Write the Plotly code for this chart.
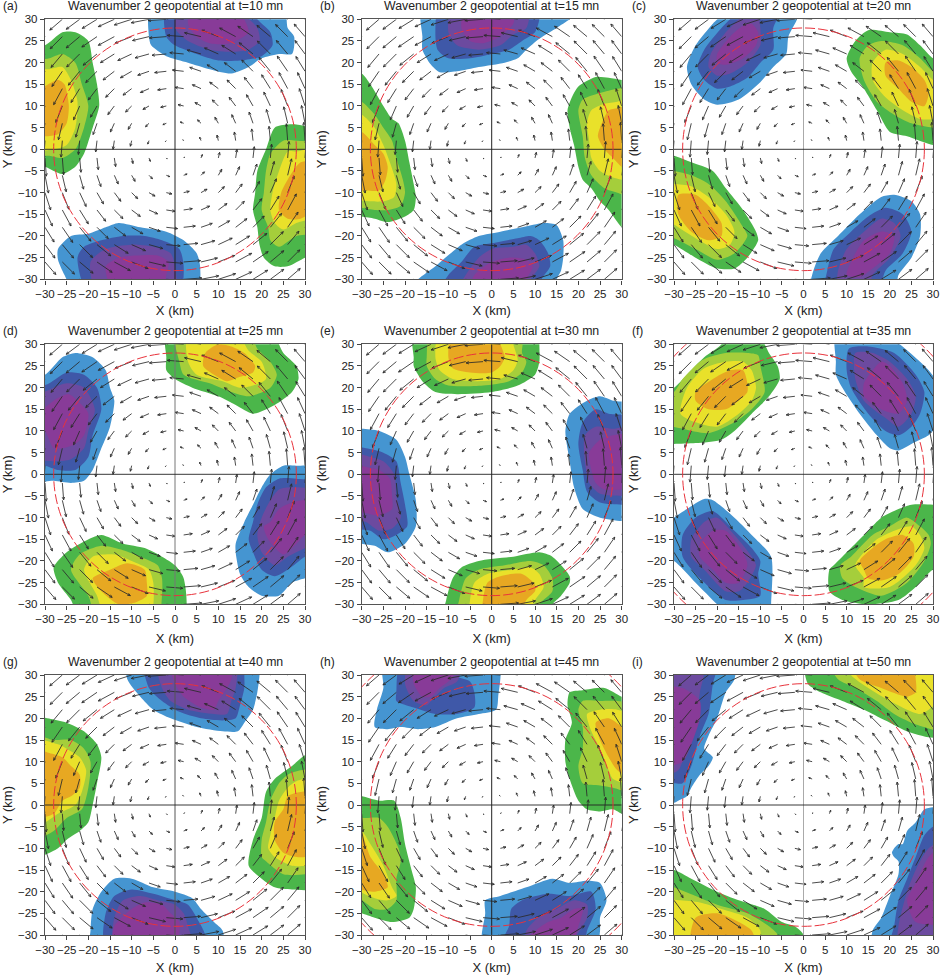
import math
import plotly.graph_objects as go

TAGS = ["(a)", "(b)", "(c)", "(d)", "(e)", "(f)", "(g)", "(h)", "(i)"]
MINUTES = [10, 15, 20, 25, 30, 35, 40, 45, 50]
TICKS = [-30, -25, -20, -15, -10, -5, 0, 5, 10, 15, 20, 25, 30]
COOL = ["#4595d1", "#3f58a8", "#6c4a9f", "#883b98"]
WARM = ["#4bb64a", "#a5ce3b", "#e9e12a", "#e7a822"]
CIRCLE_R = [[28], [28], [28], [28], [28], [28, 40.5], [28], [28, 40.5], [28]]
VLINE = ["#222", "#222", "#aaa", "#777", "#222", "#aaa", "#555", "#222", "#aaa"]

QUAD_X = [2, 6, 10, 14, 18, 22, 26, 30]
QUAD_Y = [30, 26, 22, 18, 14, 10, 6, 2]
QUAD_U = [
    [-4.2, -4.1, -4.0, -3.7, -3.4, -3.1, -2.9, -2.5],
    [-3.8, -3.8, -3.8, -3.7, -3.5, -3.1, -2.8, -2.5],
    [-3.2, -3.2, -3.2, -3.2, -3.2, -3.0, -2.6, -2.3],
    [-2.6, -2.6, -2.6, -2.6, -2.6, -2.6, -2.4, -2.1],
    [-2.0, -2.0, -2.0, -2.0, -2.0, -2.0, -2.0, -1.7],
    [-1.3, -1.4, -1.4, -1.5, -1.5, -1.5, -1.5, -1.3],
    [-0.8, -0.8, -0.8, -0.9, -0.9, -0.9, -0.9, -0.8],
    [-0.2, -0.3, -0.3, -0.3, -0.3, -0.3, -0.3, -0.3],
]
QUAD_V = [
    [0.3, 0.8, 1.3, 1.7, 2.1, 2.3, 2.5, 2.5],
    [0.3, 0.9, 1.5, 2.0, 2.4, 2.6, 2.8, 2.9],
    [0.3, 0.9, 1.4, 2.0, 2.6, 3.0, 3.1, 3.1],
    [0.3, 0.9, 1.5, 2.0, 2.6, 3.2, 3.5, 3.4],
    [0.3, 0.9, 1.5, 2.0, 2.6, 3.2, 3.7, 3.7],
    [0.3, 0.8, 1.4, 2.0, 2.6, 3.2, 3.8, 4.0],
    [0.3, 0.8, 1.4, 2.0, 2.6, 3.2, 3.8, 4.1],
    [0.2, 0.8, 1.3, 2.0, 2.7, 3.3, 3.9, 4.2],
]

# each blob: colour ramp, then its nested contour outlines (outer to inner)
PANEL_A = [
 (COOL, [[(-5.5,33),(-6,26),(-5.5,24),(-2,21.5),(3,20),(8,18.5),(13,17.5),(17,19),(20,21),(24,22),(27,22),(27.5,26),(26,28),(25,33)],
         [(-2,33),(-2,26),(0,24),(5,22),(10,20.5),(15,20.5),(20,21.5),(22.5,24),(22,27),(19,30),(17,33)],
         [(1,33),(0,28),(3,25),(8,23),(13,22.5),(17,23),(19.5,25),(19,28),(16,31),(14,33)],
         [(4,33),(3,29),(5,26),(8,24.5),(12,24.3),(15,25.5),(17,27),(16,30),(14,33)]]),
 (COOL, [[(-23,-33),(-25.5,-29),(-27,-25.5),(-27,-23),(-24,-20),(-20,-19.5),(-16,-18),(-13,-17),(-8,-18),(-2,-19),(2,-21),(5,-24),(5.8,-27),(5,-33)],
         [(-20,-33),(-22.5,-25),(-21,-22.5),(-17,-21),(-12,-20),(-7,-20),(-3,-21),(1,-23),(2,-27),(1,-33)],
         [(-18,-33),(-19.5,-26),(-16,-23),(-10,-22),(-5,-22.5),(-1,-24),(0,-27),(0,-33)],
         [(-14,-33),(-16,-27),(-13,-25),(-9,-24.5),(-4,-24.5),(-1.5,-26),(-2,-29),(-3,-33)]]),
 (WARM, [[(-33,24),(-30,24),(-26,27),(-23,27),(-20,25),(-19,20),(-18,15),(-17.5,10),(-19,5),(-21,-1),(-23,-4),(-26,-5.7),(-28,-5),(-30,-4),(-33,-4)],
         [(-33,20),(-29,21),(-26,22),(-23,20),(-21.5,15),(-20,10),(-21,5),(-23,0),(-26,-2),(-29,-1.5),(-33,-1)],
         [(-33,18),(-29,18.5),(-26,19),(-24,16),(-22.5,11),(-23,5),(-25,1),(-28,0),(-33,0)],
         [(-33,12),(-27,16),(-25.5,15),(-24.5,10),(-25,6),(-27,3.5),(-30,3),(-33,3)]]),
 (WARM, [[(33,4),(28,5.7),(26,5.7),(23,5),(21,0),(19,-5),(18.5,-10),(18,-14),(19,-18),(19.5,-22),(20.5,-25),(23,-27),(26,-27),(30,-25),(33,-24)],
         [(33,1),(28,2),(25,2),(22,-1),(21,-5),(20.5,-10),(20,-14),(21.5,-18),(22,-21),(24,-22.5),(28,-20),(33,-19)],
         [(33,0),(28,-.5),(26,-.5),(24,-5),(22.5,-10),(22,-14),(23,-17),(25,-18.5),(28,-17),(33,-15)],
         [(33,-3),(29,-3),(26,-7),(24.5,-10),(24,-14),(26,-16),(29,-16),(33,-13)]]),
]
PANEL_B = [
 (COOL, [[(-16,33),(-16,26),(-16,23),(-14,19.5),(-12,17.8),(-8,18),(-3,19),(3,20),(6,21),(8,23),(11,25.5),(15,28),(18,30),(22,33)],
         [(-12,33),(-13,27),(-12.5,23),(-10,21),(-5,21),(0,22),(4,23),(7,25),(10,27),(11,30),(11,33)],
         [(-9,33),(-10,27),(-8,24),(-3,23),(2,24),(5,26.5),(8,28),(8.5,33)],
         [(-6,33),(-7,28),(-5,25),(-2,24.5),(1,25.5),(3,27),(5,29),(5,33)]]),
 (COOL, [[(-20,-33),(-17,-30),(-13,-27),(-7,-22),(-3,-20),(2,-19),(7,-18),(12,-17),(15,-17.5),(16.5,-21),(16.5,-25),(16,-28),(15,-30),(15,-33)],
         [(-12,-33),(-10,-29),(-7,-26),(-4,-22.5),(1,-21.5),(6,-20.5),(9,-20),(11,-21),(13,-24),(13.5,-27),(11.5,-30),(11,-33)],
         [(-8,-33),(-6,-29),(-3,-25),(0,-23),(5,-22.5),(8,-22),(10,-24),(11,-27),(9,-30),(8,-33)],
         [(-5,-33),(-4,-29),(0,-26),(4,-25),(8,-25.5),(9.5,-27),(8,-30),(7,-33)]]),
 (WARM, [[(-33,18),(-30,17.5),(-28,15),(-25,10),(-23,7),(-21.5,6),(-20,2),(-19,-3),(-18,-8),(-17.5,-11),(-18,-14),(-20,-15.5),(-24,-16.8),(-27,-16),(-30,-15.5),(-33,-15)],
         [(-33,11.5),(-30,11),(-27,8),(-25,5),(-23,2),(-22,-2),(-20.5,-7),(-20,-10),(-21,-13),(-24,-14),(-27,-14),(-30,-13.5),(-33,-13)],
         [(-33,8),(-30,8),(-27,5),(-25,1),(-23.5,-3),(-22,-8),(-22.5,-11),(-25,-12),(-28,-12),(-33,-11)],
         [(-33,4),(-30,4),(-27,1),(-25,-1),(-24,-4),(-24.5,-7),(-26,-9.5),(-29,-9.5),(-33,-9)]]),
 (WARM, [[(33,16),(30,16),(27,16.5),(24,16.7),(20,14.5),(18.5,12),(17.5,9),(18,5),(19,1),(20,-4),(21,-7),(23,-9),(25,-12),(27,-14),(30,-18),(33,-20)],
         [(33,14),(29,14),(25,13),(21,11.5),(20,9),(21,3),(21.5,-2),(23,-6),(26,-9),(29,-10),(33,-11)],
         [(33,12),(29,11),(26,10.5),(23,9),(22,6),(22.5,2),(23,-2),(25,-5),(28,-6.5),(33,-7)],
         [(33,10),(29,9.5),(27,9),(25,5),(24.5,3),(26,0),(28,-2),(30,-4),(33,-5)]]),
]
PANEL_C = [
 (COOL, [[(-1,33),(-1.5,30),(-3.5,26),(-4,22),(-7,19),(-10,15.5),(-15,11.5),(-20,10.3),(-23,11.5),(-26,15),(-27,19),(-25,24),(-21,29),(-19,31),(-18,33)],
         [(-5,33),(-7,28),(-7,23),(-10,20),(-13,16.5),(-17,14.5),(-20,14),(-23,16),(-24.5,19),(-23,23),(-19,28),(-16,31),(-14,33)],
         [(-11,33),(-10,28),(-10,24),(-13,20),(-17,17.5),(-20,17),(-22,19),(-21.5,22),(-18,27),(-15,30),(-13,33)],
         [(-12,29),(-10.5,27),(-11,24),(-14,21),(-18,19.5),(-20,20),(-20,22),(-17,26),(-14,28.5)]]),
 (COOL, [[(1.5,-33),(2,-29),(4,-24),(8,-20),(13,-15),(18,-11),(21,-10.5),(25,-12),(27,-15),(27,-20),(25,-25),(22,-29),(21,-33)],
         [(5,-33),(5.5,-28),(7,-23),(11,-19),(15,-15.5),(19,-13.5),(23,-15),(25,-19),(23,-24),(19,-28),(17,-33)],
         [(8,-33),(8,-28),(10,-23),(14,-19),(18,-16),(21,-17),(22.5,-20),(20,-25),(16,-29),(15,-33)],
         [(10,-29),(11,-26),(14,-21),(18,-19),(21,-20),(20,-24),(16,-27.5),(13,-29.5)]]),
 (WARM, [[(33,20),(30,21),(27,24),(24,26.5),(20,27),(15,27.5),(12,25),(10,21),(11,18),(14,14),(17,9),(20,4),(24,3),(30,1),(33,1)],
         [(33,17),(30,18),(27,21),(23,24),(18,25),(15,24),(13,21),(14,16),(17,11),(21,8),(25,6),(30,5),(33,5)],
         [(33,14),(30,16),(27,19),(23,22),(19,23),(16,20),(16,16),(19,12),(23,9),(27,7),(30,7),(33,9)],
         [(29,13),(28,16),(25,19),(22,20.5),(19,20),(19,17),(22,14),(25,11),(28,10)]]),
 (WARM, [[(-33,-1),(-30,-1.5),(-26,-3),(-21,-5),(-18,-9),(-14,-14),(-11,-19),(-10.5,-21),(-13,-25),(-16,-27.5),(-20,-27.5),(-25,-25),(-30,-22),(-33,-21)],
         [(-33,-5),(-30,-5),(-26,-6),(-22,-8),(-18,-12),(-14,-18),(-13,-20),(-16,-24),(-20,-25.5),(-25,-23),(-30,-20.5),(-33,-20)],
         [(-33,-8),(-30,-8),(-26,-8.5),(-22,-11),(-18,-15),(-16,-19),(-17,-22),(-20,-23),(-25,-20.5),(-29,-18),(-33,-15)],
         [(-29,-10.5),(-25,-10.5),(-22,-13),(-19,-17),(-19,-20),(-22,-21),(-26,-19),(-29,-15)]]),
]
PANEL_D = [
 (WARM, [[(-2,33),(-2,27),(-2,24),(0,22),(4,20),(10,18),(14,16),(18,14),(23,16),(27,19),(28.5,22),(28,25),(25,28),(24,30),(23,33)],
         [(0,33),(1,26),(2,23),(8,21),(13,19),(17,18),(22,20),(23.5,23),(22,26),(19,29),(17,33)],
         [(3,33),(3,26),(5,23),(11,21.5),(15,20),(18,20.5),(21,22),(20,26),(17,28.5),(14,33)],
         [(10,30),(7,28),(6.5,25),(9,23),(12,21.5),(15,22.5),(18,23.5),(18.5,25),(16,28),(13,29.5)]]),
 (WARM, [[(-22,-33),(-24,-29),(-27,-25),(-28,-21.5),(-25,-18),(-21,-15.5),(-17,-14),(-12,-16),(-7,-17),(-3,-19),(0,-21),(2,-24),(2,-33)],
         [(-18,-33),(-20,-28),(-24,-22),(-22,-18.5),(-17,-16.5),(-12,-17.5),(-8,-19),(-4,-21),(-3,-24),(-3,-28),(-4,-33)],
         [(-16,-33),(-18,-28),(-21,-22),(-19,-19),(-14,-18.5),(-10,-20),(-6,-22),(-5,-25),(-5,-30),(-6,-33)],
         [(-13,-30),(-17,-27),(-19,-24),(-15,-22),(-11,-20.5),(-7,-22),(-6.5,-25),(-6.5,-28),(-9,-29.5)]]),
 (COOL, [[(-33,23),(-30,23),(-26,27),(-23,28),(-19,27),(-16,24),(-15,20),(-14,17),(-15,11),(-17,6),(-19,1),(-21,-1.5),(-24,-2),(-28,-1.5),(-33,-1.5)],
         [(-33,19),(-29,21),(-25,23.5),(-21,23),(-18,20),(-17,15),(-19,9),(-20,4),(-23,1),(-27,1),(-30,2),(-33,2)],
         [(-33,17),(-28,20),(-25,21),(-21,20),(-18.5,15),(-20,10),(-21,6),(-24,3.5),(-28,3),(-33,4)],
         [(-33,12),(-28,17),(-24.5,18.5),(-22,16.5),(-20,14),(-21,9),(-23,7),(-26,6),(-28,6),(-30,10)]]),
 (COOL, [[(33,1.5),(28,2),(25,2),(22,0),(20,-3),(18,-7),(16,-11),(14,-16),(14,-18),(15,-23),(17,-26),(20,-28),(24,-28),(27,-25),(30,-24),(33,-23)],
         [(33,-2),(28,-1),(24,-1),(21,-3),(19,-7),(18,-11),(17,-15),(18,-18),(20,-22),(23,-23.5),(26,-22),(30,-19),(33,-18)],
         [(33,-4),(27,-3),(24,-3.5),(22,-6),(20,-10),(19,-14),(20,-18),(23,-21),(26,-19),(30,-17),(33,-15)],
         [(33,-6),(27,-6.5),(24,-8),(22,-11),(20.5,-12),(21.5,-15),(25,-18.5),(28,-16),(30,-14),(33,-13)]]),
]
PANEL_E = [
 (WARM, [[(-18,33),(-18,27),(-18,25),(-16,21.5),(-13,19),(-8,18.5),(0,19),(6,20.5),(10,23),(11,26),(11,30),(11,33)],
         [(-14,33),(-15,27),(-15,25),(-13,22),(-10,20.5),(-2,20.5),(4,21.5),(7,23.5),(8,26),(7,28),(7,33)],
         [(-12,33),(-13,27),(-12,24),(-9,22),(-4,21.5),(2,22),(5,24),(6,26.5),(5,30),(5,33)],
         [(-9,33),(-10,27),(-9,24.5),(-5,23.5),(0,23.5),(2,25),(3,27),(2,30),(1,33)]]),
 (WARM, [[(-11,-33),(-10.5,-29),(-9,-24),(-7,-21.5),(-3,-20),(5,-19),(11,-18),(14,-19),(18,-23.5),(18,-25),(16,-28),(14,-30),(13,-33)],
         [(-8,-33),(-7.5,-29),(-6,-24),(-3,-22),(3,-21),(9,-20),(12,-21),(14,-24),(14,-27),(11,-30),(10,-33)],
         [(-5,-33),(-5,-29),(-4,-25),(-1,-23),(5,-22),(9,-21.5),(11,-23),(12,-26),(10,-29),(8,-33)],
         [(-2,-33),(-2,-29),(-1,-25),(2,-23.5),(7,-23),(10,-25.5),(10,-27),(8,-29),(6,-33)]]),
 (COOL, [[(-33,10.5),(-30,10.5),(-26,10),(-22,8),(-20,4),(-19,0),(-17.5,-6),(-17.5,-12),(-20,-16),(-24,-18),(-27,-16.5),(-30,-16),(-33,-15)],
         [(-33,6.5),(-29,6),(-25,5),(-22,3),(-21,-2),(-20,-7),(-19.5,-12),(-22,-14),(-25,-15),(-28,-13),(-33,-12)],
         [(-33,5),(-28,4),(-25,3),(-22.5,0),(-22,-5),(-21,-10),(-23,-12.5),(-26,-13),(-29,-11),(-33,-10)],
         [(-33,2),(-28,1.5),(-26,1),(-23.5,-1),(-23,-5),(-23,-8),(-26,-9.5),(-29,-9),(-33,-8)]]),
 (COOL, [[(33,16),(28,17),(25,18),(22,17),(18,14),(17,10),(18,3),(19,-3),(21,-8),(25,-10),(30,-10.8),(33,-11)],
         [(33,13),(27,14),(24,15),(21,12),(20,7),(21,1),(22,-4),(25,-6.5),(30,-7),(33,-7)],
         [(33,11),(28,10.5),(24,11),(21.5,9),(21.5,3),(22.5,-2),(25,-4.5),(30,-5),(33,-5)],
         [(33,9),(28,9),(25,8),(22.5,5),(23,1),(24,-2),(26,-3.5),(30,-3.5),(33,-3)]]),
]
PANEL_F = [
 (WARM, [[(-18,33),(-19,30),(-23,27),(-27,23),(-30,20),(-33,19),(-33,7),(-30,7),(-25,7.2),(-19,8),(-16,10),(-12,14),(-8,18),(-5.5,22),(-6,25),(-8,28),(-9,30),(-11,33)],
         [(-24,26),(-28,22),(-30,19),(-33,18),(-33,12),(-28,10.5),(-22,9.5),(-16,12),(-12,15),(-9,19),(-10,25),(-10.5,27.5),(-13,28),(-18,28),(-22,27)],
         [(-23,24.5),(-27,20),(-28.5,14),(-25,12),(-20,11),(-15,14),(-12,17),(-11,20),(-12,24),(-14,26),(-18,26)],
         [(-25,17),(-25,19),(-21,22),(-17,24),(-14,24),(-13,21),(-13,19),(-15,17),(-18,15),(-22,15)]]),
 (WARM, [[(6,-22),(7,-21),(11,-17),(15,-13),(18,-10),(22,-8),(25,-7),(30,-7),(33,-7.5),(33,-22),(30,-22),(26,-26),(22,-29),(15,-30),(9,-29),(6,-27)],
         [(8.5,-21),(11,-19),(16,-14),(20,-12),(24,-10),(27,-12),(29,-14),(29.5,-16),(28,-20),(24,-25),(18,-28),(12,-26),(9,-24)],
         [(12,-21),(14,-18),(17,-15),(21,-13),(25,-12),(27,-14),(28,-17),(26,-21),(20,-26),(14,-26),(14,-24)],
         [(13,-20),(16,-17),(19,-15),(23,-14),(25.5,-16),(25.5,-19),(22,-23),(18,-24.5),(15,-24),(14,-22)]]),
 (COOL, [[(7.5,33),(7.5,26),(7.5,23),(9,20),(13,14),(17,9),(20,6),(22,5.5),(25,7),(29,9),(30,10),(33,10),(33,18),(29,24),(27,26),(21,31),(17,33)],
         [(10.5,29),(10,24),(11,20),(15,14),(19,10),(22,9),(25,11),(27,14),(28,19),(26,23),(21,28),(15,29.5)],
         [(12,28),(12,22),(14,17),(19,13),(22,11),(25,14),(26,18),(24,22),(20,26),(16,28)],
         [(14,21),(14,18),(18,15),(22,14),(24,17),(23,21),(20,25),(18,26),(16,24)]]),
 (COOL, [[(-33,-13),(-30,-10),(-27,-8),(-23,-5.7),(-21,-6),(-16,-10),(-11,-15),(-7.5,-19),(-7.5,-30),(-7.5,-33),(-17,-33),(-20,-30),(-25,-25),(-30,-20),(-33,-19)],
         [(-28,-14),(-25,-10),(-21,-8.5),(-16,-13),(-12,-17),(-10,-20),(-10.5,-23),(-10,-28),(-14,-29),(-18,-29),(-24,-24),(-28,-19)],
         [(-26,-15),(-23,-11),(-20,-10),(-16,-14),(-12,-19),(-11,-21),(-13,-25),(-15,-27),(-18,-27),(-23,-22),(-26,-19)],
         [(-24,-16),(-21,-13),(-18,-13),(-14,-18),(-13,-21),(-15,-25),(-18,-25),(-21,-22),(-24,-19)]]),
]
PANEL_G = [
 (COOL, [[(-11,33),(-11,29),(-8,25),(-5,22),(-1,20),(5,18),(11,17),(14.5,17),(16,19),(18,22),(19,26),(19.5,30),(19.5,33)],
         [(-7,33),(-6,27),(-3,24),(1,21.5),(6,20),(11,19.5),(14,20),(15,23),(16,27),(16,30),(16,33)],
         [(-4,33),(-3,27),(-1,24),(3,22),(9,21),(12,21),(13,24),(14,27),(14,33)],
         [(-1,33),(0,28),(2,25),(6,22.5),(9,22),(10,24),(12,27),(13,29),(13,33)]]),
 (COOL, [[(-19.5,-33),(-19.5,-29),(-19,-24),(-17,-20),(-14,-17),(-10,-17),(-5,-19),(0,-20),(4,-21.5),(6,-24),(9,-27),(11,-29),(11,-33)],
         [(-16,-33),(-16,-25),(-14,-21),(-10,-19.5),(-5,-20.5),(0,-22),(3,-23),(5,-26),(7,-30),(7,-33)],
         [(-14,-33),(-14,-26),(-12,-22),(-8,-21),(-4,-22),(0,-23),(2,-25),(3,-28),(4,-33)],
         [(-14,-33),(-14,-28),(-10,-24),(-7,-22.5),(-3,-23),(-1,-25),(1,-27),(1,-30),(1,-33)]]),
 (WARM, [[(-33,20),(-27,19.5),(-25,19),(-21,17),(-18,14),(-17,11),(-18,5),(-19,0),(-20,-4),(-22,-6),(-25,-8),(-27,-10),(-30,-11.5),(-33,-12)],
         [(-33,16),(-28,15),(-24,15),(-21,13),(-19.5,10),(-20,4),(-21.5,-1),(-25,-3),(-28,-6),(-33,-8)],
         [(-33,15),(-27,14),(-25,13),(-22,11),(-20.5,8),(-21.5,3),(-23,0),(-27,-2),(-30,-4),(-33,-5)],
         [(-33,13),(-29,12),(-26,11),(-24,9),(-22,7),(-22,4),(-24,2),(-26,1),(-28,-2),(-33,-3)]]),
 (WARM, [[(33,12),(30,11.5),(27,9),(23,6),(21,3),(20,-3),(18,-8),(17,-14),(20,-17),(23,-19),(27,-19.5),(33,-19)],
         [(33,8),(29,8),(26,7),(24,5),(22,1),(21,-4),(20,-8),(20,-12),(21,-13),(25,-16),(30,-16),(33,-15)],
         [(33,6),(28,5.5),(26,4),(24,1),(23,-3),(22,-7),(21.5,-10),(23,-12),(27,-14),(30,-14),(33,-13)],
         [(33,3),(29,3),(26,2),(25,-1),(23,-4),(23,-8),(25,-11),(28,-12),(30,-12),(33,-11)]]),
]
PANEL_H = [
 (COOL, [[(1.5,33),(1.5,25),(1,22),(-3,21),(-8,20),(-13,18),(-17,17.5),(-21,18),(-24,17.5),(-27,18),(-26.5,22),(-25,27),(-25,33)],
         [(-21,33),(-22,26),(-22,24),(-18,22.5),(-13,21),(-8,21),(-4,22.5),(-4,26),(-5,28.5),(-9,30),(-10,33)],
         [(-19,33),(-20,28),(-18,24),(-15,23),(-14,24),(-11,27),(-8,28.5),(-7,33)],
         [(-18,33),(-18,28),(-16,25),(-14,25),(-12,27),(-9,29.5),(-8,33)]]),
 (COOL, [[(-2,-33),(-1.5,-25),(-1.5,-22),(2,-21),(8,-19),(14,-17),(18,-18),(22,-17.5),(25,-18),(26.5,-22),(25,-26),(25,-29),(24,-33)],
         [(2,-33),(4,-28),(4.5,-24),(7,-22),(13,-20.5),(18,-21),(23,-20),(24,-24),(22,-29),(21,-33)],
         [(8,-33),(8,-29),(12,-25),(15,-24),(19,-22),(22,-23),(22,-26),(19,-31),(18,-33)],
         [(8,-33),(9,-30),(13,-27),(16,-26),(19,-24),(21,-24),(20,-28),(18,-33)]]),
 (WARM, [[(-33,2),(-30,2),(-26,1),(-22.5,1),(-21,-3),(-20,-9),(-18.5,-15),(-17.5,-19),(-18,-24),(-19,-26),(-23,-27),(-27,-26),(-30,-25),(-33,-24)],
         [(-33,-3),(-29,-3),(-26,-3),(-24,-5),(-21.5,-10),(-21,-13),(-22,-17),(-22,-22),(-24,-24),(-27,-24),(-30,-22),(-33,-21)],
         [(-33,-5),(-30,-6),(-28,-9),(-25,-14),(-23,-19),(-22,-21),(-24,-22),(-27,-21.5),(-33,-18)],
         [(-33,-6),(-30,-7),(-28,-12),(-25,-16),(-24,-19),(-27,-20),(-30,-19.5),(-33,-17)]]),
 (WARM, [[(33,24),(30,25),(26,27),(21,26.5),(18,26),(17.5,23),(18.5,19),(17,15),(17,10),(18,6),(20,1),(22,-1),(25,-1.5),(28,-1),(30,-2),(33,-2)],
         [(33,23),(29,24),(25,24),(21,24),(20,22),(21,18),(21,13),(20,9),(21,5),(25,4.5),(28,4),(33,3)],
         [(33,20),(29,22),(25,22),(22,21),(23,17),(25,13),(27,8),(28,6),(33,5)],
         [(33,15),(30,18),(27,20),(24,19),(25,15),(27,11),(29,8),(33,6)]]),
]
PANEL_I = [
 (COOL, [[(-16,33),(-16,29),(-18,26),(-20,20),(-22,16),(-23,13),(-21,11),(-22,9),(-24,7),(-26,4),(-27,2),(-29,1),(-30,.5),(-33,0),(-33,33)],
         [(-20,33),(-21,28),(-22,21),(-24,16),(-26,9),(-28,5),(-30,5),(-33,5),(-33,33)],
         [(-23,33),(-24,26),(-25,20),(-27,14),(-29,8),(-33,7),(-33,33)],
         [(-33,27),(-28,27),(-24,24),(-24,20),(-26,14),(-28,10),(-33,9)]]),
 (COOL, [[(16,-33),(16,-29),(18,-26),(20,-21),(22,-16),(22,-13),(21,-12),(20.5,-11),(21,-10),(22,-9),(23,-9),(24,-6),(26,-4),(28,-1),(30,-.5),(33,0),(33,-33)],
         [(20,-33),(21,-28),(22,-22),(24,-17),(26,-12),(28,-7),(30,-5),(33,-5),(33,-33)],
         [(22,-33),(22,-28),(24,-20),(26,-15),(29,-10),(33,-8),(33,-33)],
         [(33,-27),(26,-27),(24,-22),(26,-18),(29,-12),(33,-9)]]),
 (WARM, [[(.5,33),(1,28),(4,26),(9,24),(14,22),(19,19.5),(24,17),(28,15.8),(30,15.5),(33,15),(33,33)],
         [(6,33),(8,29),(12,27),(17,24),(21,21),(25,19),(28,18),(33,17),(33,33)],
         [(10,33),(11,30),(15,27),(20,24),(24,22),(27,21),(29,22),(33,26),(33,33)],
         [(11,33),(13,29),(18,27),(24,25),(26,26),(26,29),(25,33)]]),
 (WARM, [[(-33,-15),(-30,-15),(-26,-17),(-20,-20),(-15,-22),(-9,-24),(-5,-27),(-2,-28),(0,-30),(-1,-33),(-33,-33)],
         [(-33,-18),(-30,-19),(-25,-21),(-20,-23),(-13,-25),(-8,-28),(-6,-30),(-7,-33),(-33,-33)],
         [(-33,-22),(-29,-22),(-24,-22.5),(-19,-24),(-13,-26),(-10,-29),(-11,-33),(-33,-33)],
         [(-26,-33),(-25,-26),(-20,-25),(-15,-27),(-12,-29),(-11,-33)]]),
]
PANELS = [PANEL_A, PANEL_B, PANEL_C, PANEL_D, PANEL_E, PANEL_F, PANEL_G, PANEL_H, PANEL_I]

W, H = 940, 975
COL_PX = [(45, 305), (361.7, 621.7), (674, 933)]
ROW_PX = [(19.3, 279.3), (344.3, 604.3), (675, 935)]
ROW_XTITLE = [6, 9, 10]
FONT = "Liberation Sans, Arial, sans-serif"
INK = "#222"

fig = go.Figure()
annotations, shapes, layout_axes = [], [], {}


def arrow_paths():
    xs, ys = [], []
    for r, y0 in enumerate(QUAD_Y):
        for c, x0 in enumerate(QUAD_X):
            x, y, u, v = x0, y0, QUAD_U[r][c], QUAD_V[r][c]
            for _ in range(4):
                s = math.hypot(u, v)
                hx, hy = x + u, y + v
                h = min(0.7, 0.5 * s)
                a = math.atan2(v, u)
                xs += [x, hx, None,
                       hx + h * math.cos(a + 2.72), hx, hx + h * math.cos(a - 2.72), None]
                ys += [y, hy, None,
                       hy + h * math.sin(a + 2.72), hy, hy + h * math.sin(a - 2.72), None]
                x, y, u, v = -y, x, -v, u
    return xs, ys


ARROW_X, ARROW_Y = arrow_paths()

for i, panel in enumerate(PANELS):
    row, col = divmod(i, 3)
    sfx = "" if i == 0 else str(i + 1)
    xa, ya = "x" + sfx, "y" + sfx
    for ramp, outlines in panel:
        for color, outline in zip(ramp, outlines):
            pts = outline + outline[:1]
            fig.add_trace(go.Scatter(
                x=[p[0] for p in pts], y=[p[1] for p in pts], mode="lines",
                line=dict(width=0, shape="spline", smoothing=0.7),
                fill="toself", fillcolor=color, hoverinfo="skip",
                showlegend=False, xaxis=xa, yaxis=ya))
    fig.add_trace(go.Scatter(
        x=ARROW_X, y=ARROW_Y, mode="lines",
        line=dict(color="#2a2a2a", width=0.85),
        hoverinfo="skip", showlegend=False, xaxis=xa, yaxis=ya))

    x0, x1 = COL_PX[col]
    y0, y1 = ROW_PX[row]
    common = dict(range=[-30, 30], tickmode="array", tickvals=TICKS,
                  ticks="outside", ticklen=4, tickwidth=1, tickcolor="#444",
                  showline=True, linecolor="#555", linewidth=1.4, mirror=True,
                  showgrid=False, zeroline=False,
                  tickfont=dict(family=FONT, size=11.5, color=INK))
    layout_axes["xaxis" + sfx] = dict(
        common, domain=[x0 / W, x1 / W], anchor=ya,
        title=dict(text="X (km)", standoff=ROW_XTITLE[row],
                   font=dict(family=FONT, size=13, color=INK)))
    layout_axes["yaxis" + sfx] = dict(
        common, domain=[1 - y1 / H, 1 - y0 / H], anchor=xa,
        title=dict(text="Y (km)", standoff=5,
                   font=dict(family=FONT, size=13, color=INK)))
    shapes.append(dict(type="line", xref=xa, yref=ya, x0=0, x1=0, y0=-30, y1=30,
                       line=dict(color=VLINE[i], width=1)))
    shapes.append(dict(type="line", xref=xa, yref=ya, x0=-30, x1=30, y0=0, y1=0,
                       line=dict(color="#222", width=0.9)))
    for r in CIRCLE_R[i]:
        shapes.append(dict(type="circle", xref=xa, yref=ya, x0=-r, x1=r, y0=-r, y1=r,
                           line=dict(color="#e8333c", width=1, dash="10px,3px")))
    annotations.append(dict(
        text=f"Wavenumber 2 geopotential at t={MINUTES[i]} mn",
        xref="paper", yref="paper", x=(x0 + x1) / 2 / W, y=1 - (y0 - 13) / H,
        xanchor="center", yanchor="middle", showarrow=False,
        font=dict(family=FONT, size=12.3, color=INK)))
    annotations.append(dict(
        text=TAGS[i], xref="paper", yref="paper", x=(x0 - 44) / W, y=1 - (y0 - 13) / H,
        xanchor="left", yanchor="middle", showarrow=False,
        font=dict(family=FONT, size=12, color=INK)))

fig.update_layout(
    width=W, height=H, margin=dict(l=0, r=0, t=0, b=0, autoexpand=False),
    paper_bgcolor="white", plot_bgcolor="white", showlegend=False,
    annotations=annotations, shapes=shapes, **layout_axes)
fig.write_html("out.html", config={"displayModeBar": False},
               post_script="document.body.style.margin='0';")
